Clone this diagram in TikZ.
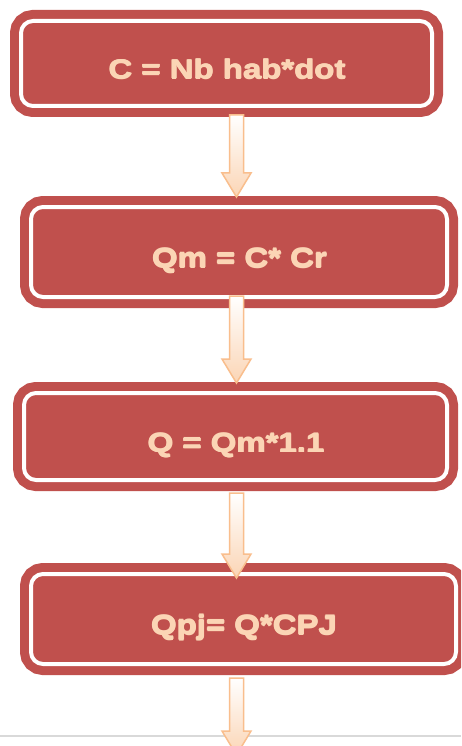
\documentclass[tikz,border=0pt]{standalone}
\usepackage{fontspec}
\newfontfamily\boxfont[FakeStretch=1.22]{Liberation Sans Bold}
\usetikzlibrary{calc}

\definecolor{boxred}{HTML}{C0504D}
\definecolor{peach}{HTML}{FBD5B5}
\definecolor{arrowline}{HTML}{F9BE8D}
\definecolor{arrowshadow}{HTML}{B47A55}
\definecolor{rulegray}{HTML}{D9D9D9}

% heavier weight: the text is set several times with small offsets
\newcommand\heavy[1]{%
  \rlap{\kern1.1pt#1}\rlap{\kern0.55pt\raisebox{0.6pt}{#1}}%
  \rlap{\kern0.55pt\raisebox{-0.5pt}{#1}}#1}

\tikzset{
  formula/.style={rectangle, rounded corners=12pt, fill=boxred, draw=white,
    line width=4pt, preaction={draw=boxred, line width=22pt},
    text=peach, font=\boxfont\fontsize{27}{30}\selectfont,
    text height=31pt, text depth=0pt, inner sep=0pt},
  arrowbody/.style={draw=arrowline, line width=1.5pt, line join=miter,
    top color=white, bottom color=peach},
  arrowshade/.style={fill=arrowshadow, opacity=0.8},
}

% hollow block arrow from a top point down to a tip point
\newcommand\blockarrow[2]{%
  \begin{scope}[shift={(3,2.5)}]
    \path[arrowshade] let \p1=(#1), \p2=(#2) in
      (\x1-7pt,\y1) -- (\x1+7pt,\y1) -- (\x1+7pt,\y2+24pt) -- (\x1+14.5pt,\y2+24pt)
      -- (\x1,\y2) -- (\x1-14.5pt,\y2+24pt) -- (\x1-7pt,\y2+24pt) -- cycle;
  \end{scope}
  \path[arrowbody] let \p1=(#1), \p2=(#2) in
    (\x1-7pt,\y1) -- (\x1+7pt,\y1) -- (\x1+7pt,\y2+24pt) -- (\x1+14.5pt,\y2+24pt)
    -- (\x1,\y2) -- (\x1-14.5pt,\y2+24pt) -- (\x1-7pt,\y2+24pt) -- cycle;
}

\begin{document}
\begin{tikzpicture}[x=1pt, y=-1pt]
  \clip (0,0) rectangle (461,746);
  \fill[white] (0,0) rectangle (461,746);

  % thin rule near the bottom
  \coordinate (ruleL) at (0,736);
  \coordinate (ruleR) at (461,736);
  \draw[rulegray, line width=1.5pt] (ruleL) -- (ruleR);

  % formula boxes
  \node[formula, minimum width=411pt, minimum height=85pt] (box1) at (226.5,63.5) {\heavy{C = Nb hab*dot}};
  \node[formula, minimum width=416pt, minimum height=90pt] (box2) at (239,252) {\heavy{Qm = C* Cr}};
  \node[formula, minimum width=423pt, minimum height=87pt] (box3) at (235.5,436.5) {\heavy{Q = Qm*1.1}};
  \node[formula, minimum width=425pt, minimum height=90pt] (box4) at (243.5,619) {\heavy{Qpj= Q*CPJ}};

  % arrow end points
  \coordinate (a1s) at (236.5,115);  \coordinate (a1e) at (236.5,197);
  \coordinate (a2s) at (236.5,296);  \coordinate (a2e) at (236.5,383);
  \coordinate (a3s) at (236.5,493);  \coordinate (a3e) at (236.5,578);
  \coordinate (a4s) at (236.5,678);  \coordinate (a4e) at (236.5,755);

  \blockarrow{a1s}{a1e}
  \blockarrow{a2s}{a2e}
  \blockarrow{a3s}{a3e}
  \blockarrow{a4s}{a4e}
\end{tikzpicture}
\end{document}
